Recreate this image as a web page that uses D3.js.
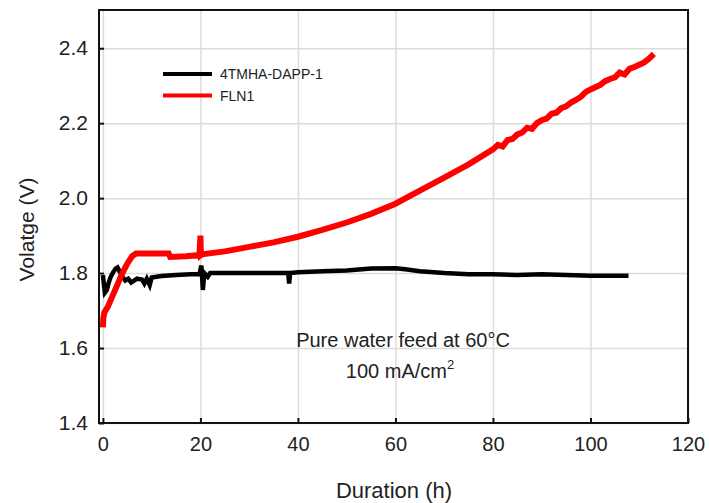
<!DOCTYPE html>
<html>
<head>
<meta charset="utf-8" />
<title>Voltage vs duration</title>
<script src="https://cdn.jsdelivr.net/npm/d3@7"></script>
<style>
  body { margin: 0; background: #fff; }
  svg text { font-family: "Liberation Sans", Arial, sans-serif; fill: #222; }
  .grid line { stroke: #dcdcdc; stroke-width: 1.5; }
  .grid path { display: none; }
  .axis path, .axis line { stroke: #111; }
</style>
</head>
<body>
<div id="chart"></div>
<script>
// FLN1 (red) : hours / volts
var flnHours = [0, 0.1, 0.3, 1, 2, 3, 4, 5, 6, 6.8, 10, 13.5, 13.8, 17, 19.8, 20, 20.1, 20.3,
  25, 30, 35, 40, 45, 50, 55, 60, 65, 70, 75, 80, 81, 82, 83, 84, 85, 86, 87, 88, 89, 90,
  91, 92, 93, 94, 95, 96, 97, 98, 99, 100, 101, 102, 103, 104, 105, 106, 107, 108, 109, 110,
  111, 112, 113];
var flnVolts = [1.655, 1.68, 1.695, 1.71, 1.74, 1.77, 1.80, 1.825, 1.845, 1.852, 1.852, 1.852, 1.843, 1.845, 1.848, 1.90, 1.848, 1.85,
  1.858, 1.87, 1.882, 1.897, 1.915, 1.935, 1.958, 1.985, 2.02, 2.055, 2.09, 2.13, 2.142, 2.138, 2.155, 2.158, 2.17, 2.175, 2.188, 2.185, 2.20, 2.208,
  2.212, 2.225, 2.228, 2.24, 2.245, 2.255, 2.262, 2.27, 2.283, 2.29, 2.296, 2.302, 2.312, 2.318, 2.322, 2.335, 2.33, 2.345, 2.35, 2.356,
  2.362, 2.372, 2.385];

// 4TMHA-DAPP-1 (black)
var tmhaHours = [0, 0.2, 0.4, 0.8, 1.2, 1.6, 2.0, 2.6, 3.0, 3.4, 4.0, 4.6, 5.2, 5.8, 6.4, 7, 8, 8.5, 9, 9.6,
  10, 12, 15, 18, 19.8, 20.2, 20.5, 20.8, 21.5, 22, 25, 30, 35, 38, 38.2, 38.4, 40, 45, 50, 55,
  60, 62, 65, 70, 75, 80, 85, 90, 95, 100, 105, 107.8];
var tmhaVolts = [1.795, 1.77, 1.748, 1.755, 1.775, 1.79, 1.80, 1.812, 1.815, 1.805, 1.79, 1.78, 1.785, 1.775, 1.78, 1.785, 1.783, 1.772, 1.785, 1.768,
  1.788, 1.792, 1.795, 1.797, 1.797, 1.82, 1.755, 1.80, 1.79, 1.80, 1.80, 1.80, 1.80, 1.80, 1.772, 1.80, 1.802, 1.805, 1.807, 1.812,
  1.813, 1.81, 1.805, 1.80, 1.797, 1.797, 1.795, 1.797, 1.795, 1.793, 1.793, 1.793];

var xTicks = [0, 20, 40, 60, 80, 100, 120];
var yTicks = [1.4, 1.6, 1.8, 2.0, 2.2, 2.4];

var W = 709, H = 503;
var margin = {top: 10, right: 21, bottom: 80, left: 99};
var width = W - margin.left - margin.right,
    height = H - margin.top - margin.bottom;

var x = d3.scaleLinear().domain([-0.8, 120]).range([0, width]);
var y = d3.scaleLinear().domain([1.4, 2.502]).range([height, 0]);

var svg = d3.select("#chart").append("svg")
    .attr("width", W)
    .attr("height", H);

var g = svg.append("g")
    .attr("transform", "translate(" + margin.left + "," + margin.top + ")");

// grid
g.append("g").attr("class", "grid")
    .attr("transform", "translate(0," + height + ")")
    .call(d3.axisBottom(x).tickValues(xTicks).tickSize(-height).tickFormat(""));
g.append("g").attr("class", "grid")
    .call(d3.axisLeft(y).tickValues(yTicks).tickSize(-width).tickFormat(""));

// lines
var line = d3.line()
    .x(function (d) { return x(d[0]); })
    .y(function (d) { return y(d[1]); });

g.append("path")
    .datum(tmhaHours.map(function (h, i) { return [h, tmhaVolts[i]]; }))
    .attr("fill", "none")
    .attr("stroke", "#000")
    .attr("stroke-width", 4.5)
    .attr("d", line);

g.append("path")
    .datum(flnHours.map(function (h, i) { return [h, flnVolts[i]]; }))
    .attr("fill", "none")
    .attr("stroke", "#ff0000")
    .attr("stroke-width", 6)
    .attr("d", line);

// axes (ticks pointing inward)
var xAxis = g.append("g").attr("class", "axis")
    .attr("transform", "translate(0," + height + ")")
    .call(d3.axisBottom(x).tickValues(xTicks).tickSize(-5).tickPadding(14).tickSizeOuter(0));
xAxis.selectAll("text").style("font-size", "20px");
xAxis.selectAll("line").attr("stroke-width", 2);

var yAxis = g.append("g").attr("class", "axis")
    .call(d3.axisLeft(y).tickValues(yTicks).tickSize(-5).tickPadding(11).tickSizeOuter(0)
      .tickFormat(d3.format(".1f")));
yAxis.selectAll("text").style("font-size", "21px");
yAxis.selectAll("line").attr("stroke-width", 2);

// frame
g.append("rect")
    .attr("width", width)
    .attr("height", height)
    .attr("fill", "none")
    .attr("stroke", "#111")
    .attr("stroke-width", 2);

// axis titles
svg.append("text")
    .attr("x", 394)
    .attr("y", 498)
    .attr("text-anchor", "middle")
    .style("font-size", "22px")
    .text("Duration (h)");

svg.append("text")
    .attr("transform", "translate(34," + (margin.top + height / 2 + 13) + ") rotate(-90)")
    .attr("text-anchor", "middle")
    .style("font-size", "21px")
    .text("Volatge (V)");

// legend
var legend = [
  {name: "4TMHA-DAPP-1", color: "#000", w: 4},
  {name: "FLN1", color: "#ff0000", w: 4}
];
legend.forEach(function (d, i) {
  var ly = 74 + i * 21.5;
  svg.append("line")
      .attr("x1", 163).attr("x2", 212)
      .attr("y1", ly).attr("y2", ly)
      .attr("stroke", d.color)
      .attr("stroke-width", d.w);
  svg.append("text")
      .attr("x", 220).attr("y", ly + 5)
      .style("font-size", "14px")
      .text(d.name);
});

// annotation
svg.append("text")
    .attr("x", 403).attr("y", 347)
    .attr("text-anchor", "middle")
    .style("font-size", "20px")
    .text("Pure water feed at 60°C");
var t2 = svg.append("text")
    .attr("x", 400).attr("y", 378)
    .attr("text-anchor", "middle")
    .style("font-size", "20px");
t2.append("tspan").text("100 mA/cm");
t2.append("tspan").attr("dy", -9).style("font-size", "13px").text("2");
</script>
</body>
</html>
